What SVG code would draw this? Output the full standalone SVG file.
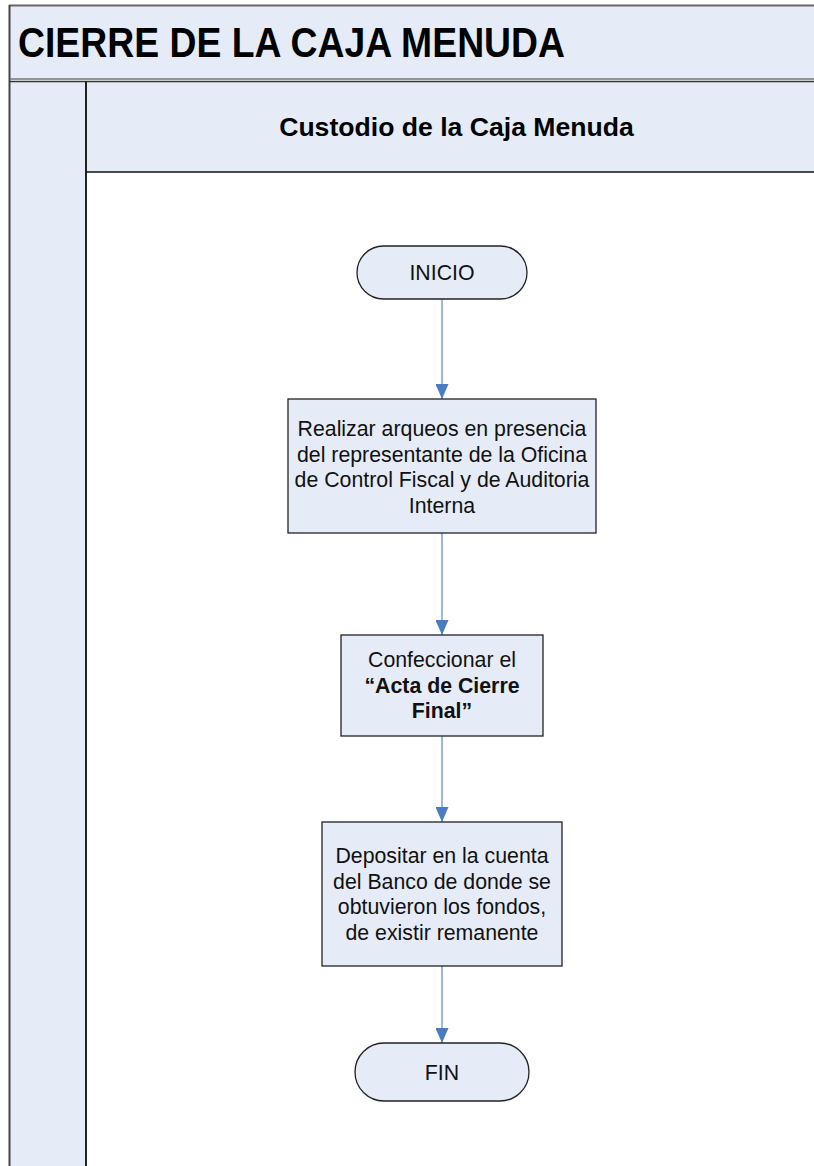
<svg xmlns="http://www.w3.org/2000/svg" width="814" height="1166" viewBox="0 0 814 1166">
<defs>
<style>
.band{fill:#E6ECF7;}
.node{fill:#E6ECF7;stroke:#222;stroke-width:1.3;}
.t{font-family:"Liberation Sans",Arial,sans-serif;font-size:21.3px;fill:#111;text-anchor:middle;}
.b{font-weight:bold;}
.conn{stroke:#7FA7D9;stroke-width:1.6;fill:none;marker-end:url(#ah);}
</style>
<marker id="ah" markerWidth="15" markerHeight="13" refX="15" refY="6.5" orient="auto" markerUnits="userSpaceOnUse" viewBox="0 0 15 13">
<path d="M0,0 L15,6.5 L0,13 Z" fill="#4A7CC4"/>
</marker>
</defs>
<rect x="0" y="0" width="814" height="1166" fill="#fff"/>
<g id="frame">
<rect class="band" x="10" y="6" width="810" height="74"/>
<rect class="band" x="10" y="81" width="76" height="1090"/>
<rect class="band" x="86" y="81" width="734" height="91"/>
<line x1="9" y1="5.5" x2="814" y2="5.5" stroke="#666" stroke-width="2"/>
<line x1="9.5" y1="5" x2="9.5" y2="1166" stroke="#444" stroke-width="2"/>
<line x1="10" y1="79" x2="814" y2="79" stroke="#777" stroke-width="1.5"/>
<line x1="10" y1="81.5" x2="814" y2="81.5" stroke="#333" stroke-width="1.5"/>
<line x1="86" y1="81" x2="86" y2="1166" stroke="#222" stroke-width="2"/>
<line x1="86" y1="172" x2="814" y2="172" stroke="#111" stroke-width="1.3"/>
<text x="18" y="57" font-family="'Liberation Sans',Arial,sans-serif" font-weight="bold" font-size="42" fill="#000" textLength="547" lengthAdjust="spacingAndGlyphs">CIERRE DE LA CAJA MENUDA</text>
<text x="456.5" y="136" font-family="'Liberation Sans',Arial,sans-serif" font-weight="bold" font-size="26.6" fill="#000" text-anchor="middle">Custodio de la Caja Menuda</text>
</g>
<g id="connectors">
<path class="conn" d="M442,299 L442,399"/>
<path class="conn" d="M442,533 L442,635"/>
<path class="conn" d="M442,736 L442,822"/>
<path class="conn" d="M442,966 L442,1043"/>
</g>
<g id="inicio">
<rect class="node" x="357" y="246" width="170" height="53" rx="26.5"/>
<text class="t" x="442" y="279.5">INICIO</text>
</g>
<g id="arqueos">
<rect class="node" x="288" y="399" width="308" height="134"/>
<text class="t" x="442" y="435.5">Realizar arqueos en presencia</text>
<text class="t" x="442" y="461.5">del representante de la Oficina</text>
<text class="t" x="442" y="486.5">de Control Fiscal y de Auditoria</text>
<text class="t" x="442" y="512.5">Interna</text>
</g>
<g id="acta">
<rect class="node" x="341" y="635" width="202" height="101"/>
<text class="t" x="442" y="666.5">Confeccionar el</text>
<text class="t b" x="442" y="692.5">“Acta de Cierre</text>
<text class="t b" x="442" y="717.5">Final”</text>
</g>
<g id="depositar">
<rect class="node" x="322" y="822" width="240" height="144"/>
<text class="t" x="442" y="862.5">Depositar en la cuenta</text>
<text class="t" x="442" y="888.5">del Banco de donde se</text>
<text class="t" x="442" y="913.5">obtuvieron los fondos,</text>
<text class="t" x="442" y="939.5">de existir remanente</text>
</g>
<g id="fin">
<rect class="node" x="355" y="1043" width="174" height="58" rx="29"/>
<text class="t" x="442" y="1079.5">FIN</text>
</g>
</svg>
